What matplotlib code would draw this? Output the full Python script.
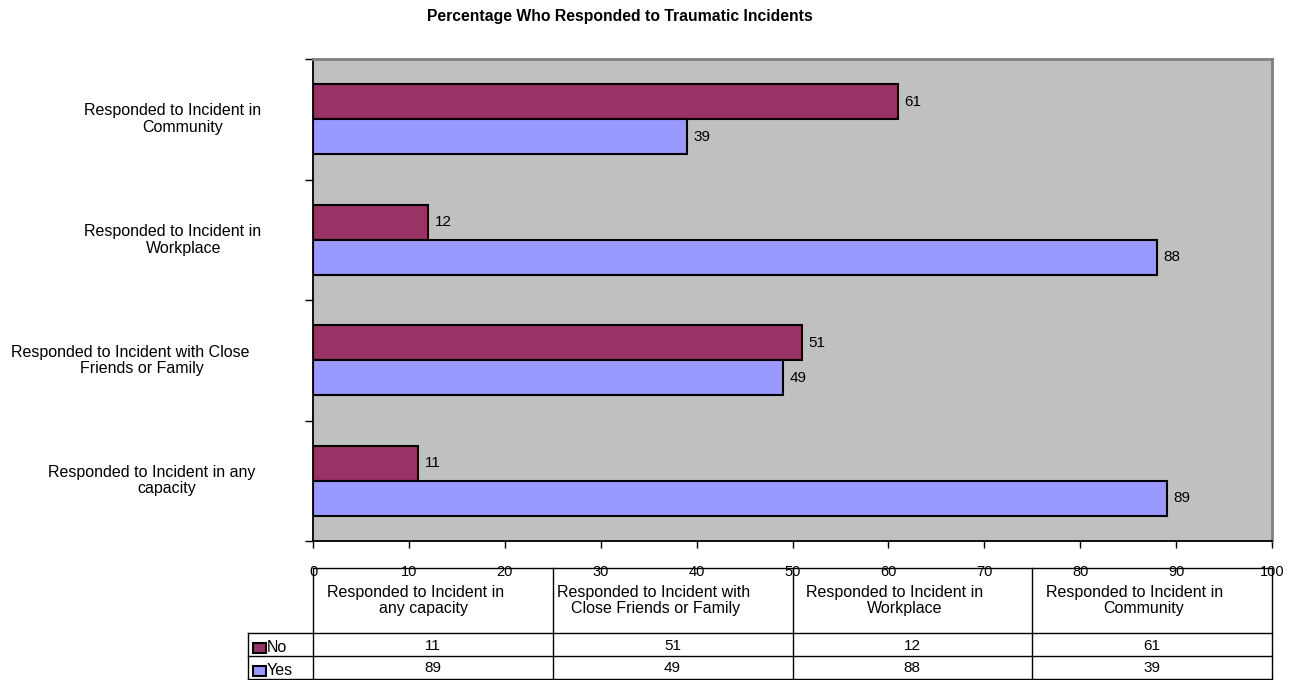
import matplotlib
matplotlib.use("Agg")
import matplotlib.pyplot as plt
from matplotlib.lines import Line2D
from matplotlib.patches import Rectangle
import numpy as np

plt.rcParams['font.family'] = ['Liberation Sans', 'DejaVu Sans']

# Data
categories = [
    "Responded to Incident in any\ncapacity",
    "Responded to Incident with Close\nFriends or Family",
    "Responded to Incident in\nWorkplace",
    "Responded to Incident in\nCommunity",
]
table_headers = [
    "Responded to Incident in\nany capacity",
    "Responded to Incident with\nClose Friends or Family",
    "Responded to Incident in\nWorkplace",
    "Responded to Incident in\nCommunity",
]
no_values = [11, 51, 12, 61]
yes_values = [89, 49, 88, 39]
series_names = ["No", "Yes"]
series_colors = ["#993366", "#9999FF"]
x_ticks = list(range(0, 101, 10))

W, H = 1295, 680
fig = plt.figure(figsize=(W / 100, H / 100), dpi=100)
renderer = fig.canvas.get_renderer()

def fx(px):
    return px / W

def fy(py):
    return 1 - py / H

def text_width(s, size):
    t = fig.text(0, 0, s, fontsize=size)
    w = t.get_window_extent(renderer).width
    t.remove()
    return w

# Multi-line labels laid out line by line, Excel-style: lines are positioned
# with slightly wider layout metrics than the drawn glyphs.
SCALE = 1.2

def block_text(lines, center_x, center_y, size, line_h):
    widths = [text_width(s, size) for s in lines]
    n_l = len(lines)
    for i, (s, w) in enumerate(zip(lines, widths)):
        x0 = center_x - SCALE * w / 2
        yy = center_y + (i - (n_l - 1) / 2) * line_h
        fig.text(fx(x0), fy(yy), s, ha="left", va="center", fontsize=size)
    return widths

left, right, top, bottom = 313, 1272, 59, 541
ax = fig.add_axes([fx(left), fy(bottom), fx(right - left), fy(top) - fy(bottom)])
ax.set_facecolor("#C0C0C0")

n = len(categories)
y = np.arange(n) + 0.5
bh = 0.29
ax.barh(y + bh / 2, no_values, height=bh, color=series_colors[0],
        edgecolor="black", linewidth=1.5, zorder=3)
ax.barh(y - bh / 2, yes_values, height=bh, color=series_colors[1],
        edgecolor="black", linewidth=1.5, zorder=3)
for yi, v in zip(y + bh / 2, no_values):
    ax.text(v + 0.7, yi, str(v), va="center", ha="left", fontsize=11)
for yi, v in zip(y - bh / 2, yes_values):
    ax.text(v + 0.7, yi, str(v), va="center", ha="left", fontsize=11)

ax.set_xlim(0, 100)
ax.set_ylim(0, n)
ax.set_xticks(x_ticks)
ax.set_xticklabels([str(t) for t in x_ticks], fontsize=10.5)
ax.set_yticks(np.arange(n + 1))
ax.set_yticklabels([])
ax.tick_params(axis="x", direction="out", length=5, width=1, pad=12)
ax.tick_params(axis="y", direction="out", length=6, width=1)
for s in ["left", "bottom"]:
    ax.spines[s].set_color("black")
    ax.spines[s].set_linewidth(1.3)
for s in ["top", "right"]:
    ax.spines[s].set_color("#808080")
    ax.spines[s].set_linewidth(2)

# Category labels on the left, block right edge at a fixed position
label_size = 11.5
label_right = 297
px_per_cat = (bottom - top) / n
for i, lab in enumerate(categories):
    lines = lab.split("\n")
    widths = [text_width(s, label_size) for s in lines]
    block_w = SCALE * max(widths)
    cy = bottom - (i + 0.5) * px_per_cat
    block_text(lines, label_right - block_w / 2, cy, label_size, 16.5)

fig.text(fx(620), fy(17), "Percentage Who Responded to Traumatic Incidents",
         ha="center", va="center", fontsize=11.3, fontweight="bold")

# Data table under the chart
def hline(x0, x1, yy, lw=1.0):
    fig.add_artist(Line2D([fx(x0), fx(x1)], [fy(yy), fy(yy)], color="black", lw=lw))

def vline(xx, y0, y1, lw=1.0):
    fig.add_artist(Line2D([fx(xx), fx(xx)], [fy(y0), fy(y1)], color="black", lw=lw))

t_top, t_hdr, t_no, t_yes = 568, 633, 656, 679
leg_left = 248
col_w = (right - left) / n
hline(left, right, t_top)
hline(leg_left, right, t_hdr)
hline(leg_left, right, t_no)
hline(leg_left, right, t_yes)
vline(leg_left, t_hdr, t_yes)
for i in range(n + 1):
    vline(left + i * col_w, t_top, t_yes)

for i, h in enumerate(table_headers):
    cx = left + (i + 0.5) * col_w
    block_text(h.split("\n"), cx, (t_top + t_hdr) / 2, 11.5, 17)
    fig.text(fx(cx), fy((t_hdr + t_no) / 2 + 1), str(no_values[i]), ha="center",
             va="center", fontsize=11)
    fig.text(fx(cx), fy((t_no + t_yes) / 2 + 1), str(yes_values[i]), ha="center",
             va="center", fontsize=11)

for (r0, r1), name, col in zip([(t_hdr, t_no), (t_no, t_yes)], series_names, series_colors):
    cy = (r0 + r1) / 2 + 3
    fig.add_artist(Rectangle((fx(253), fy(cy + 5)), fx(13), fy(cy - 5) - fy(cy + 5),
                             facecolor=col, edgecolor="black", lw=1.5))
    fig.text(fx(267), fy(cy), name, ha="left", va="center", fontsize=11.5)

fig.savefig("out.png", dpi=100)
